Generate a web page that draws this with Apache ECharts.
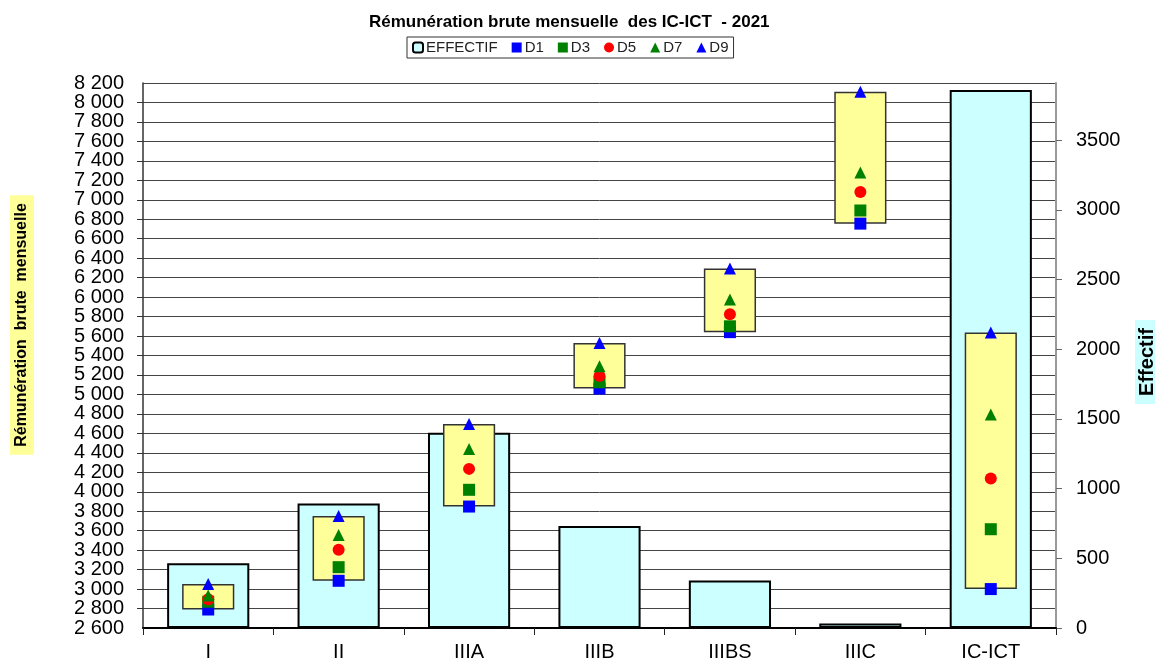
<!DOCTYPE html>
<html>
<head>
<meta charset="utf-8">
<script src="https://cdn.jsdelivr.net/npm/echarts@6/dist/echarts.min.js"></script>
<style>
html,body{margin:0;padding:0;background:#fff;}
#chart{width:1155px;height:662px;}
</style>
</head>
<body>
<div id="chart"></div>
<script>
const categories = ['I', 'II', 'IIIA', 'IIIB', 'IIIBS', 'IIIC', 'IC-ICT'];
const effectif = [464, 893, 1400, 731, 341, 33, 3860];
const d1 = [2790, 3085, 3848, 5060, 5640, 6755, 3000];
const d3 = [2870, 3225, 4020, 5125, 5700, 6890, 3615];
const d5 = [2895, 3405, 4235, 5190, 5825, 7080, 4135];
const d7 = [2935, 3555, 4440, 5290, 5975, 7280, 4795];
const d9 = [3052, 3752, 4695, 5528, 6295, 8110, 5636];
const leftMin = 2600, leftMax = 8200, leftStep = 200;
const rightMin = 0, rightMax = 3910, rightStep = 500;
const titleText = 'Rémunération brute mensuelle  des IC-ICT  - 2021';
const leftAxisName = 'Rémunération  brute  mensuelle';
const rightAxisName = 'Effectif';

const FONT = '"Liberation Sans", Arial, sans-serif';
const boxRange = d9.map((v, i) => v - d1[i]);
const fmtSpace = v => String(v).replace(/\B(?=(\d{3})+(?!\d))/g, ' ');
const leftLabel = {fontFamily: FONT, fontSize: 20, color: '#000', margin: 19};

const chart = echarts.init(document.getElementById('chart'), null, {renderer: 'canvas'});
const option = {
  backgroundColor: '#fff',
  animation: false,
  textStyle: {fontFamily: FONT},
  title: {
    text: titleText,
    left: 364,
    top: 9,
    textStyle: {fontFamily: FONT, fontSize: 17, fontWeight: 'bold', color: '#000'}
  },
  legend: {
    data: ['EFFECTIF', 'D1', 'D3', 'D5', 'D7', 'D9'],
    top: 37,
    left: 407,
    padding: [3, 5],
    itemGap: 14,
    itemWidth: 10,
    itemHeight: 10,
    borderColor: '#333',
    borderWidth: 1,
    textStyle: {fontFamily: FONT, fontSize: 15, color: '#222', padding: [0, 0, 0, -2]}
  },
  grid: {left: 143, right: 99, top: 83, bottom: 32, containLabel: false},
  xAxis: [
    {
      type: 'category',
      data: categories,
      axisLine: {lineStyle: {color: '#000', width: 2}},
      axisTick: {show: true, alignWithLabel: false, length: 7, lineStyle: {color: '#222', width: 1}},
      axisLabel: {interval: 0, fontFamily: FONT, fontSize: 20, color: '#000', margin: 14},
      splitLine: {show: false}
    },
    {
      type: 'category',
      data: categories,
      show: false
    }
  ],
  yAxis: [
    {
      type: 'value',
      min: leftMin,
      max: leftMax,
      interval: leftStep,
      position: 'left',
      axisLine: {show: true, lineStyle: {color: '#333', width: 1.5}},
      axisTick: {show: true, length: 6, lineStyle: {color: '#333'}},
      axisLabel: Object.assign({showMinLabel: false, showMaxLabel: false, formatter: fmtSpace}, leftLabel),
      splitLine: {show: true, lineStyle: {color: '#444', width: 1}}
    },
    {
      type: 'value',
      min: rightMin,
      max: rightMax,
      interval: rightStep,
      position: 'right',
      axisLine: {show: true, lineStyle: {color: '#999', width: 2}},
      axisTick: {show: true, length: 6, lineStyle: {color: '#666'}},
      axisLabel: {fontFamily: FONT, fontSize: 20, color: '#000', margin: 20, showMaxLabel: false,
        formatter: v => (v % rightStep === 0 ? String(v) : '')},
      splitLine: {show: false}
    },
    {
      type: 'value',
      min: leftMin,
      max: leftMax,
      interval: leftStep,
      position: 'left',
      axisLine: {show: false},
      axisTick: {show: false},
      splitLine: {show: false},
      axisLabel: Object.assign({showMinLabel: true, showMaxLabel: true,
        formatter: v => (v === leftMin || v === leftMax ? fmtSpace(v) : '')}, leftLabel)
    }
  ],
  graphic: [
    {
      type: 'text',
      x: 22, y: 325,
      rotation: Math.PI / 2,
      style: {
        text: leftAxisName,
        font: 'bold 16px ' + FONT,
        fill: '#000',
        align: 'center',
        verticalAlign: 'middle',
        backgroundColor: '#ffff99',
        padding: [4, 8]
      }
    },
    {
      type: 'text',
      x: 1147, y: 362,
      rotation: Math.PI / 2,
      style: {
        text: rightAxisName,
        font: 'bold 20px ' + FONT,
        fill: '#000',
        align: 'center',
        verticalAlign: 'middle',
        backgroundColor: '#ccffff',
        padding: [2, 8]
      }
    }
  ],
  series: [
    {
      name: 'EFFECTIF',
      type: 'bar',
      xAxisIndex: 0,
      yAxisIndex: 1,
      data: effectif,
      barWidth: '63%',
      z: 2,
      itemStyle: {color: '#ccffff', borderColor: '#000', borderWidth: 2}
    },
    {
      name: 'base',
      type: 'bar',
      xAxisIndex: 1,
      yAxisIndex: 0,
      stack: 'box',
      data: d1,
      barWidth: '40%',
      z: 3,
      itemStyle: {color: 'rgba(0,0,0,0)'},
      silent: true
    },
    {
      name: 'range',
      type: 'bar',
      xAxisIndex: 1,
      yAxisIndex: 0,
      stack: 'box',
      data: boxRange,
      barWidth: '40%',
      z: 3,
      itemStyle: {color: '#ffff99', borderColor: '#333', borderWidth: 1.5}
    },
    {
      name: 'D1', type: 'scatter', xAxisIndex: 0, yAxisIndex: 0, data: d1, z: 5,
      symbol: 'rect', symbolSize: 12, itemStyle: {color: '#0000ff', opacity: 1}
    },
    {
      name: 'D3', type: 'scatter', xAxisIndex: 0, yAxisIndex: 0, data: d3, z: 5,
      symbol: 'rect', symbolSize: 12, itemStyle: {color: '#008000', opacity: 1}
    },
    {
      name: 'D5', type: 'scatter', xAxisIndex: 0, yAxisIndex: 0, data: d5, z: 5,
      symbol: 'circle', symbolSize: 12, itemStyle: {color: '#ff0000', opacity: 1}
    },
    {
      name: 'D7', type: 'scatter', xAxisIndex: 0, yAxisIndex: 0, data: d7, z: 5,
      symbol: 'triangle', symbolSize: 12, itemStyle: {color: '#008000', opacity: 1}
    },
    {
      name: 'D9', type: 'scatter', xAxisIndex: 0, yAxisIndex: 0, data: d9, z: 5,
      symbol: 'triangle', symbolSize: 12, itemStyle: {color: '#0000ff', opacity: 1}
    }
  ]
};
chart.setOption(option);
</script>
</body>
</html>
